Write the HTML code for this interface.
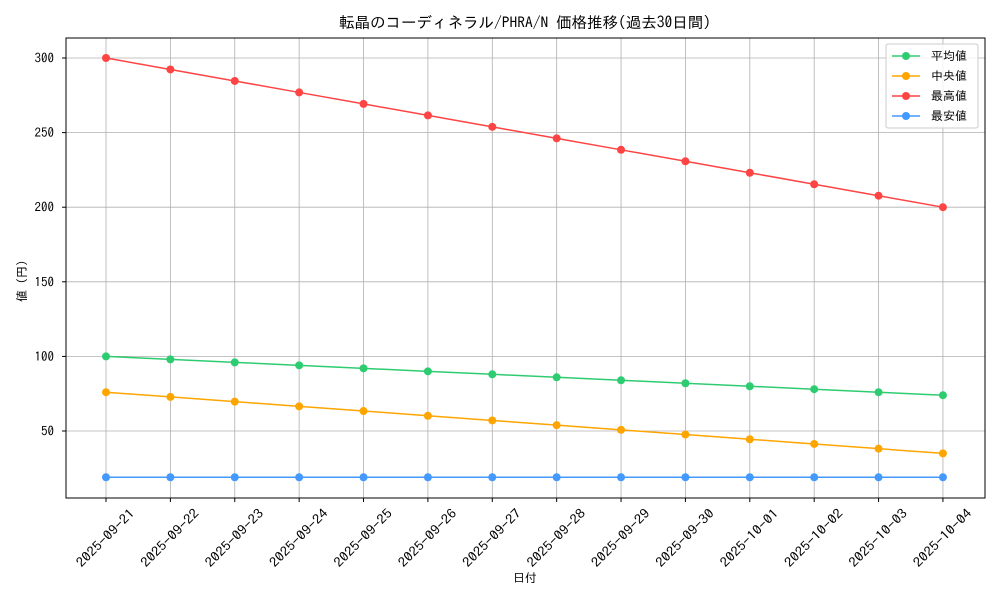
<!DOCTYPE html>
<html><head><meta charset="utf-8"><style>
body{margin:0;background:#fff}
text{font-family:"IPAGothic","Noto Sans CJK JP",monospace;fill:#000}
</style></head><body>
<svg id="s" width="1000" height="600" xmlns="http://www.w3.org/2000/svg">
<rect width="1000" height="600" fill="#fff"/>
<text x="525" y="28" font-size="15.5" text-anchor="middle">転晶のコーディネラル/PHRA/N 価格推移(過去30日間)</text>
<g id="g"></g>
<rect x="66" y="38" width="919" height="460" fill="none" stroke="#000" stroke-width="1"/>
<text x="525" y="582" font-size="12" text-anchor="middle">日付</text>
<text transform="translate(26,278) rotate(-90)" font-size="12" text-anchor="middle">値（円）</text>
<g>
<rect x="886" y="44" width="92" height="84" fill="#fff" fill-opacity="0.8" stroke="#ccc" rx="2"/>
<line x1="892" y1="56" x2="920" y2="56" stroke="#2ecc71" stroke-width="1.5"/><circle cx="906" cy="56" r="4" fill="#2ecc71"/><text x="931" y="60" font-size="12">平均値</text>
<line x1="892" y1="76" x2="920" y2="76" stroke="#ffa500" stroke-width="1.5"/><circle cx="906" cy="76" r="4" fill="#ffa500"/><text x="931" y="80" font-size="12"> 中央値</text>
<line x1="892" y1="96" x2="920" y2="96" stroke="#ff4444" stroke-width="1.5"/><circle cx="906" cy="96" r="4" fill="#ff4444"/><text x="931" y="100" font-size="12">最高値</text>
<line x1="892" y1="116" x2="920" y2="116" stroke="#4499ff" stroke-width="1.5"/><circle cx="906" cy="116" r="4" fill="#4499ff"/><text x="931" y="120" font-size="12">最安値</text>
</g>
</svg>
<script>
var g=document.getElementById('g'),h='';
function Y(v){return 58+(300-v)*1.492;}
[300,250,200,150,100,50].forEach(function(v){var y=Y(v);
h+='<line x1="66" x2="985" y1="'+y+'" y2="'+y+'" stroke="#b0b0b0" stroke-width="0.8"/>';
h+='<line x1="62" x2="66" y1="'+y+'" y2="'+y+'" stroke="#000"/>';
h+='<text x="54" y="'+(y+4.5)+'" font-size="13" text-anchor="end">'+v+'</text>';});
var d=['2025-09-21','2025-09-22','2025-09-23','2025-09-24','2025-09-25','2025-09-26','2025-09-27','2025-09-28','2025-09-29','2025-09-30','2025-10-01','2025-10-02','2025-10-03','2025-10-04'];
var X=[];for(var i=0;i<14;i++){var x=106+64.38*i;X.push(x);
h+='<line x1="'+x+'" x2="'+x+'" y1="38" y2="498" stroke="#b0b0b0" stroke-width="0.8"/>';
h+='<line x1="'+x+'" x2="'+x+'" y1="498" y2="502" stroke="#000"/>';
h+='<text transform="translate('+(x-0.5)+',538) rotate(-45)" font-size="13" text-anchor="middle" dominant-baseline="central" textLength="76" lengthAdjust="spacingAndGlyphs">'+d[i]+'</text>';}
var S=[['#2ecc71',function(i){return 100-2*i}],['#ffa500',function(i){return 76-3.154*i}],['#ff4444',function(i){return 300-7.692*i}],['#4499ff',function(i){return 19}]];
S.forEach(function(s){var p=[],c='';for(var i=0;i<14;i++){var y=Y(s[1](i));p.push(X[i]+','+y);c+='<circle cx="'+X[i]+'" cy="'+y+'" r="4" fill="'+s[0]+'"/>';}
h+='<polyline points="'+p.join(' ')+'" fill="none" stroke="'+s[0]+'" stroke-width="1.5"/>'+c;});
g.innerHTML=h;
</script>
</body></html>
